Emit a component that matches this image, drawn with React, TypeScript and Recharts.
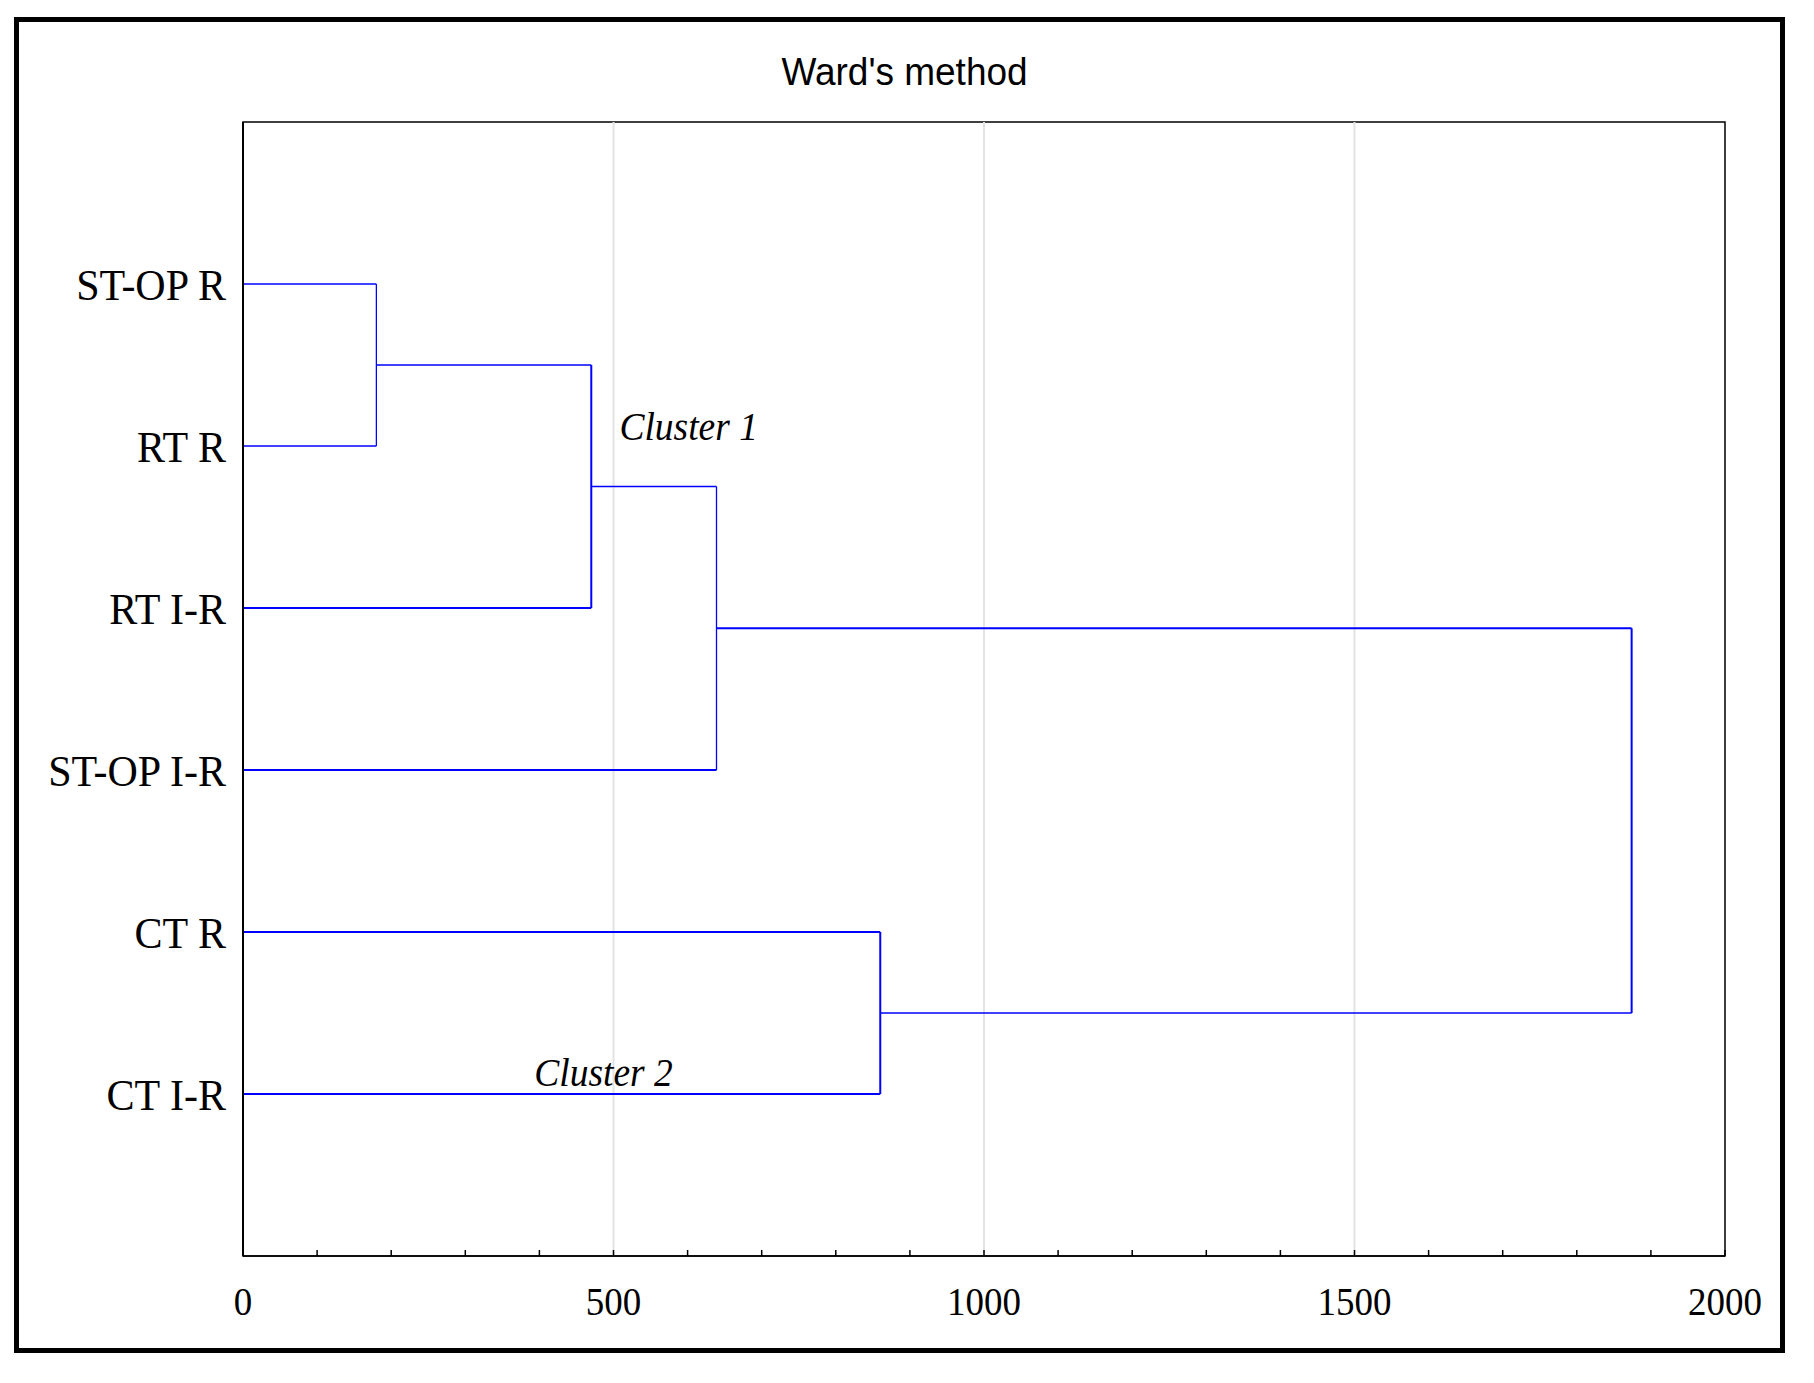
import React from 'react';
import { ComposedChart, Line, XAxis, YAxis, ReferenceLine, ReferenceArea, Scatter } from 'recharts';

// ---- data ----
const chartTitle = "Ward's method";
const leafLabels = ['ST-OP R', 'RT R', 'RT I-R', 'ST-OP I-R', 'CT R', 'CT I-R'];
const leafPositions = [1, 2, 3, 4, 5, 6];
// linkage: leaves are nodes 0..5, merged clusters become nodes 6..10
const mergeLeft = [0, 6, 7, 4, 8];
const mergeRight = [1, 2, 3, 5, 9];
const mergeHeight = [180, 470, 639, 860, 1874];
const xTicks = [0, 100, 200, 300, 400, 500, 600, 700, 800, 900, 1000, 1100, 1200, 1300, 1400, 1500, 1600, 1700, 1800, 1900, 2000];
const xLabelTicks = [0, 500, 1000, 1500, 2000];
const gridValues = [500, 1000, 1500];
const clusterNames = ['Cluster 1', 'Cluster 2'];
const clusterX = [508, 393];
const clusterY = [1.96, 5.95];

// ---- styles ----
const BLUE = '#0000ff';
const thickSegments = new Set(['m1-v', 'm1-b', 'm2-b', 'm3-a', 'm3-v', 'm3-b', 'm4-a', 'm4-v']);
const STRETCH = 1.08;

type Pt = { x: number; y: number };
const nodeX: number[] = leafPositions.map(() => 0);
const nodeY: number[] = [...leafPositions];
const segments: { key: string; pts: Pt[] }[] = [];
mergeHeight.forEach((h, i) => {
  const a = mergeLeft[i];
  const b = mergeRight[i];
  segments.push({ key: `m${i}-a`, pts: [{ x: nodeX[a], y: nodeY[a] }, { x: h, y: nodeY[a] }] });
  segments.push({ key: `m${i}-v`, pts: [{ x: h, y: nodeY[a] }, { x: h, y: nodeY[b] }] });
  segments.push({ key: `m${i}-b`, pts: [{ x: nodeX[b], y: nodeY[b] }, { x: h, y: nodeY[b] }] });
  nodeX.push(h);
  nodeY.push((nodeY[a] + nodeY[b]) / 2);
});

const clusterData = clusterNames.map((n, i) => ({ x: clusterX[i], y: clusterY[i], name: n }));

const XTick = (props: any) => {
  const { x, y, payload } = props;
  const v = payload.value;
  return (
    <g>
      <line x1={x} y1={y} x2={x} y2={y - 6} stroke="#000" strokeWidth={1.5} />
      {xLabelTicks.includes(v) && (
        <text
          transform={`translate(${x},${y + 59}) scale(1,${STRETCH})`}
          x={0}
          y={0}
          textAnchor="middle"
          fontFamily="'Liberation Serif', 'Times New Roman', serif"
          fontSize={37}
          fill="#000"
        >
          {v}
        </text>
      )}
    </g>
  );
};

const YTick = (props: any) => {
  const { x, y, payload } = props;
  const idx = leafPositions.indexOf(payload.value);
  return (
    <text
      transform={`translate(${x - 17},${y + 16}) scale(1,1.03)`}
      x={0}
      y={0}
      textAnchor="end"
      fontFamily="'Liberation Serif', 'Times New Roman', serif"
      fontSize={42}
      fill="#000"
    >
      {idx >= 0 ? leafLabels[idx] : ''}
    </text>
  );
};

const ClusterLabel = (props: any) => {
  const { cx, cy, payload } = props;
  return (
    <text
      transform={`translate(${cx},${cy}) scale(1,1.05)`}
      x={0}
      y={0}
      textAnchor="start"
      fontFamily="'Liberation Serif', 'Times New Roman', serif"
      fontStyle="italic"
      fontSize={37.5}
      fill="#000"
    >
      {payload.name}
    </text>
  );
};

export default function App() {
  return (
    <div style={{ position: 'absolute', left: 0, top: 0, width: 1814, height: 1383, background: '#fff' }}>
      <div
        style={{
          position: 'absolute',
          left: 14,
          top: 17,
          width: 1771,
          height: 1336,
          border: '5px solid #000',
          boxSizing: 'border-box',
        }}
      />
      <svg style={{ position: 'absolute', left: 0, top: 0 }} width={1814} height={120}>
        <text
          transform={`translate(904.5,85) scale(1,1.04)`}
          x={0}
          y={0}
          textAnchor="middle"
          fontFamily="'Liberation Sans', Arial, sans-serif"
          fontSize={37}
          fill="#000"
        >
          {chartTitle}
        </text>
      </svg>
      <div style={{ position: 'absolute', left: 0, top: 0 }}>
        <ComposedChart width={1814} height={1383} margin={{ top: 122, right: 89, bottom: 0, left: 0 }}>
          <XAxis
            type="number"
            dataKey="x"
            domain={[0, 2000]}
            ticks={xTicks}
            interval={0}
            allowDataOverflow
            height={127}
            tickSize={0}
            tickMargin={0}
            tickLine={false}
            axisLine={{ stroke: '#000', strokeWidth: 1.5 }}
            tick={<XTick />}
          />
          <YAxis
            type="number"
            dataKey="y"
            domain={[0, 7]}
            reversed
            ticks={leafPositions}
            interval={0}
            allowDataOverflow
            width={243}
            tickSize={0}
            tickMargin={0}
            tickLine={false}
            axisLine={{ stroke: '#000', strokeWidth: 2 }}
            tick={<YTick />}
          />
          {gridValues.map((g) => (
            <ReferenceLine key={`g${g}`} x={g} stroke="#e3e3e3" strokeWidth={2} />
          ))}
          <ReferenceArea x1={0} x2={2000} y1={0} y2={7} fill="none" fillOpacity={0} stroke="#000" strokeWidth={1.5} />
          {segments.map((s) => (
            <Line
              key={s.key}
              data={s.pts}
              dataKey="y"
              type="linear"
              stroke={BLUE}
              strokeWidth={thickSegments.has(s.key) ? 2 : 1.3}
              dot={false}
              activeDot={false}
              isAnimationActive={false}
              legendType="none"
            />
          ))}
          <Scatter data={clusterData} dataKey="y" shape={<ClusterLabel />} isAnimationActive={false} legendType="none" />
        </ComposedChart>
      </div>
    </div>
  );
}
